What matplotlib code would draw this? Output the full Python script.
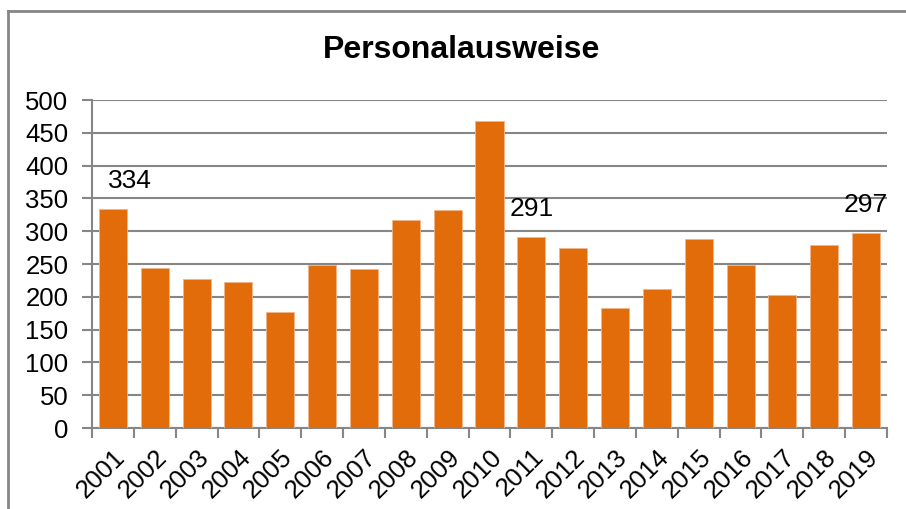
import matplotlib.pyplot as plt
from matplotlib.lines import Line2D

plt.rcParams['font.family'] = ['Liberation Sans', 'DejaVu Sans']

# ── Daten ─────────────────────────────────────────────────────────────────────
jahre = [str(j) for j in range(2001, 2020)]
werte = [334, 244, 227, 223, 177, 248, 242, 317, 332, 468,
         291, 274, 183, 212, 288, 248, 203, 279, 297]
beschriftet = {"2001": 334, "2011": 291, "2019": 297}

orange = "#E36C0A"
grau = "#868686"

fig = plt.figure(figsize=(9.06, 5.09), dpi=100)
ax = fig.add_axes([92 / 906, 1 - 428 / 509, (887 - 92) / 906, (428 - 100) / 509])

x = list(range(len(jahre)))
ax.bar(x, werte, width=0.67, color=orange, edgecolor="#F2B48A", linewidth=0.6, zorder=3)

ax.set_xlim(-0.5, len(jahre) - 0.5)
ax.set_ylim(0, 500)
ax.set_yticks(range(0, 501, 50))
ax.tick_params(axis="y", labelsize=18.5, length=7, width=1.5, color=grau, pad=10)
ax.grid(axis="y", color=grau, linewidth=1.5, zorder=0)

# x-Achse: Striche zwischen den Kategorien, Beschriftung 45°
ax.set_xticks([i - 0.5 for i in range(len(jahre) + 1)])
ax.set_xticklabels([])
ax.set_xticks(x, minor=True)
ax.set_xticklabels(jahre, minor=True, rotation=45, ha="right",
                   rotation_mode="anchor", fontsize=18.5)
ax.tick_params(axis="x", which="major", length=7, width=1.5, color=grau)
ax.tick_params(axis="x", which="minor", length=0, pad=12)

for side in ["top", "right"]:
    ax.spines[side].set_visible(False)
for side in ["left", "bottom"]:
    ax.spines[side].set_color(grau)
    ax.spines[side].set_linewidth(1.5)

# Datenbeschriftungen
for jahr, wert in beschriftet.items():
    i = jahre.index(jahr)
    dx = 0.4 if jahr == "2001" else 0
    ax.annotate(str(wert), (i + dx, wert), xytext=(0, 20), textcoords="offset points",
                ha="center", va="center", fontsize=19, zorder=4)

fig.text(462 / 906, 1 - 50 / 509, "Personalausweise", ha="center", va="center",
         fontsize=23, fontweight="bold")

# Rahmen des Diagrammbereichs
fig.add_artist(Line2D([7.5 / 906, 7.5 / 906], [0, 1 - 10.5 / 509], color=grau,
                      linewidth=2, transform=fig.transFigure))
fig.add_artist(Line2D([7.5 / 906, 1], [1 - 10.5 / 509, 1 - 10.5 / 509], color=grau,
                      linewidth=2, transform=fig.transFigure))

plt.savefig("out.png", dpi=100)
